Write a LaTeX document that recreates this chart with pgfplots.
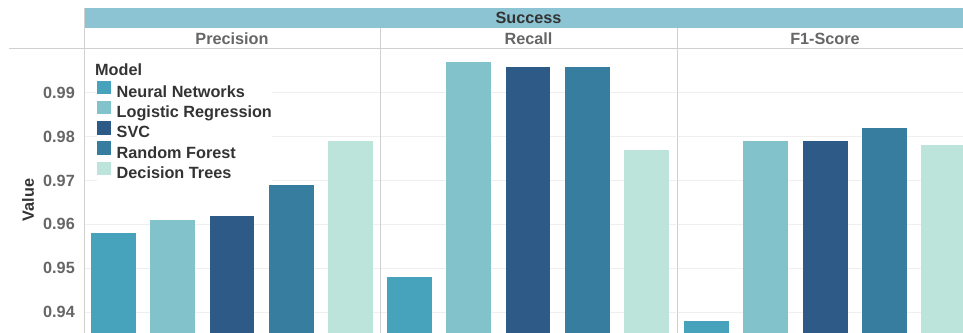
\documentclass[border=0pt]{standalone}
\usepackage{fontspec}
\setmainfont{Liberation Sans}
\usepackage{pgfplots}
\pgfplotsset{compat=1.18}
\definecolor{cNN}{HTML}{47A2BB}
\definecolor{cLR}{HTML}{82C3CB}
\definecolor{cSVC}{HTML}{2E5A87}
\definecolor{cRF}{HTML}{367D9F}
\definecolor{cDT}{HTML}{BDE4DA}
\definecolor{band}{HTML}{8DC4D4}
\definecolor{sep}{HTML}{D0D0D0}
\definecolor{gridc}{HTML}{EFEFEF}
\definecolor{tickc}{HTML}{666666}
\definecolor{darkc}{HTML}{333333}
\newcommand\ff{\fontsize{16.3}{19}\selectfont\bfseries}
\pgfplotsset{panel/.style={
  scale only axis, width=296bp, height=284bp,
  anchor=south west,
  xmin=-0.5, xmax=4.5, ymin=0.93523, ymax=1.0,
  ytick={0.94,0.95,0.96,0.97,0.98,0.99},
  yticklabels={},
  xtick=\empty,
  ymajorgrids, major grid style={gridc, line width=1bp},
  axis line style={draw=none},
  tick style={draw=none},
  ybar, bar width=0.76,
  every axis plot/.append style={bar shift=0pt, draw=none},
  clip=true,
}}
\begin{document}
\begin{tikzpicture}[font=\ff]
\useasboundingbox (0bp,0bp) rectangle (963bp,333bp);
\clip (0bp,0bp) rectangle (963bp,333bp);
% header band and rows
\fill[band] (84bp,305bp) rectangle (973bp,325bp);
\node[text=darkc] at (528.5bp,315bp) {Success};
\node[text=tickc] at (232bp,294bp) {Precision};
\node[text=tickc] at (528.5bp,294bp) {Recall};
\node[text=tickc] at (825bp,294bp) {F1-Score};
% Precision
\begin{axis}[panel, at={(84bp,0bp)},
  yticklabels={0.94,0.95,0.96,0.97,0.98,0.99},
  yticklabel style={text=tickc, inner sep=0pt, xshift=-9bp, font=\ff},
  /pgf/number format/assume math mode=true,
  ylabel={Value}, ylabel style={at={(axis description cs:-0.189,0.468)}, anchor=center, text=darkc},
  legend cell align=left,
  legend image code/.code={\fill[#1] (0bp,-1bp) rectangle (13.5bp,12.5bp);},
  legend style={at={(0.044,0.889)}, anchor=north west, draw=none, fill=white,
    inner xsep=0pt, inner ysep=0pt, row sep=0bp, column sep=6bp,
    nodes={inner sep=0pt, text height=12bp, text depth=3.5bp, text=darkc},
    font=\ff},
]
\addplot[fill=cNN] coordinates {(0,0.958)};
\addplot[fill=cLR] coordinates {(1,0.961)};
\addplot[fill=cSVC] coordinates {(2,0.962)};
\addplot[fill=cRF] coordinates {(3,0.969)};
\addplot[fill=cDT] coordinates {(4,0.979)};
\legend{Neural Networks,Logistic Regression,SVC,Random Forest,Decision Trees}
\node[anchor=base west, text=darkc, inner sep=0pt] at (rel axis cs:0.037,0.906) {Model};
\end{axis}
% Recall
\begin{axis}[panel, at={(380bp,0bp)}]
\addplot[fill=cNN] coordinates {(0,0.948)};
\addplot[fill=cLR] coordinates {(1,0.997)};
\addplot[fill=cSVC] coordinates {(2,0.996)};
\addplot[fill=cRF] coordinates {(3,0.996)};
\addplot[fill=cDT] coordinates {(4,0.977)};
\end{axis}
% F1-Score
\begin{axis}[panel, at={(677bp,0bp)}]
\addplot[fill=cNN] coordinates {(0,0.938)};
\addplot[fill=cLR] coordinates {(1,0.979)};
\addplot[fill=cSVC] coordinates {(2,0.979)};
\addplot[fill=cRF] coordinates {(3,0.982)};
\addplot[fill=cDT] coordinates {(4,0.978)};
\end{axis}
% separators
\draw[sep, line width=1bp] (9bp,284bp) -- (973bp,284bp);
\draw[sep, line width=1bp] (84bp,0bp) -- (84bp,325bp);
\draw[sep, line width=1bp] (380bp,0bp) -- (380bp,305bp);
\draw[sep, line width=1bp] (677bp,0bp) -- (677bp,305bp);
\end{tikzpicture}
\end{document}
